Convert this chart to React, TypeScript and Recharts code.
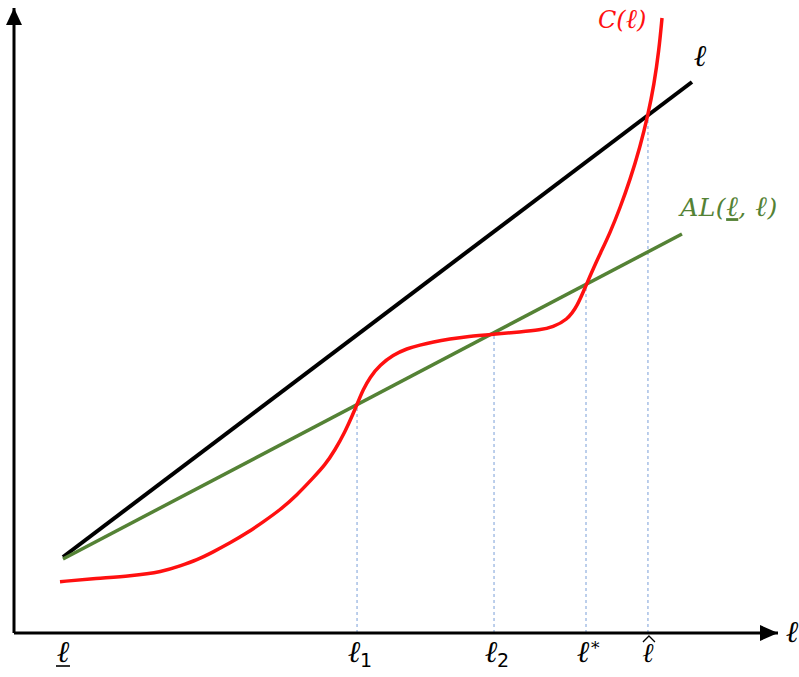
import { LineChart, Line, XAxis, YAxis, ReferenceLine, ReferenceDot } from 'recharts';

// cost curve C(l) (x and y on a 0–100 scale)
const costX = [6.02, 10.82, 15.18, 19.5, 21.73, 23.95, 26.05, 28.27, 30.5, 32.59, 34.82, 37.04, 39.14, 40.71, 42.02, 43.32, 44.37, 45.03, 45.68, 46.6, 47.91, 49.61, 51.44, 53.14, 54.84, 57.07, 59.29, 63.22, 66.23, 68.85, 70.55, 72.38, 73.69, 75.0, 75.92, 76.7, 78.01, 79.32, 80.63, 81.94, 82.98, 83.77, 84.42, 84.82];
const costY = [8.21, 8.75, 9.12, 9.81, 10.72, 11.68, 12.96, 14.4, 16.0, 17.76, 19.68, 22.08, 24.8, 26.88, 29.28, 32.16, 35.04, 36.96, 38.88, 40.96, 42.88, 44.48, 45.52, 46.08, 46.56, 47.04, 47.44, 47.84, 48.16, 48.48, 48.96, 50.08, 52.16, 56.0, 58.56, 60.64, 64.0, 68.0, 72.48, 77.76, 82.88, 87.68, 93.28, 98.4];

// 45-degree line l
const diagX = [6.41, 88.74];
const diagY = [12.16, 88.16];

// AL(l_, l)
const alX = [6.41, 87.43];
const alY = [11.84, 63.84];

// dashed drop lines: position and height where they meet the curves
const markX = [44.9, 62.83, 74.87, 82.98];
const markTop = [36.5, 48.0, 55.7, 82.9];

const tickX = [6.41, ...markX];
const tickSubs = ['', '1', '2', '*', ''];

const toRows = (xs: number[], ys: number[]) => xs.map((x, i) => ({ x, y: ys[i] }));

const FONT = '"DejaVu Serif", serif';
const RED = '#ff1010';
const GREEN = '#548235';
const DASH = '#7a9fd8';

function Ell({ x, y, size = 30, fill = '#000' }: any) {
  return (
    <text x={x} y={y} textAnchor="middle" fontFamily={FONT} fontStyle="italic" fontSize={size} fill={fill}>ℓ</text>
  );
}

function Tick({ x, y, index }: any) {
  const ty = y + 21;
  if (index === 0) {
    return (
      <g>
        <Ell x={x} y={ty} />
        <line x1={x - 7} x2={x + 7} y1={ty + 4} y2={ty + 4} stroke="#000" strokeWidth={1.6} />
      </g>
    );
  }
  if (index === 4) {
    return (
      <g>
        <Ell x={x} y={ty} size={27} />
        <path d={`M${x - 5},${ty - 20} L${x + 1},${ty - 26} L${x + 7},${ty - 20}`} fill="none" stroke="#000" strokeWidth={1.3} />
      </g>
    );
  }
  const sub = tickSubs[index];
  return (
    <g>
      <Ell x={x - 3} y={ty} />
      {sub === '*' ? (
        <text x={x + 5} y={ty - 8} fontFamily={FONT} fontSize={17} fill="#000">*</text>
      ) : (
        <text x={x + 3} y={ty + 5} fontFamily='"DejaVu Sans", sans-serif' fontSize={19} fill="#000">{sub}</text>
      )}
    </g>
  );
}

export default function App() {
  return (
    <div style={{ position: 'absolute', left: 0, top: 0, width: 799, height: 677, background: '#fff' }}>
      <LineChart width={799} height={677} margin={{ top: 8, right: 21, bottom: 0, left: 0 }}>
        <XAxis
          type="number"
          dataKey="x"
          domain={[0, 100]}
          ticks={tickX}
          tick={<Tick />}
          tickLine={false}
          axisLine={{ stroke: '#000', strokeWidth: 3 }}
          height={44}
          interval={0}
          allowDataOverflow
        />
        <YAxis
          type="number"
          dataKey="y"
          domain={[0, 100]}
          tick={false}
          tickLine={false}
          axisLine={{ stroke: '#000', strokeWidth: 3 }}
          width={14}
          allowDataOverflow
        />
        {markX.map((mx, i) => (
          <ReferenceLine
            key={mx}
            segment={[{ x: mx, y: 0 }, { x: mx, y: markTop[i] }]}
            stroke={DASH}
            strokeWidth={1}
            strokeDasharray="3 3"
            ifOverflow="visible"
          />
        ))}
        <Line data={toRows(diagX, diagY)} dataKey="y" stroke="#000" strokeWidth={4} dot={false} isAnimationActive={false} />
        <Line data={toRows(alX, alY)} dataKey="y" stroke={GREEN} strokeWidth={3.5} dot={false} isAnimationActive={false} />
        <Line data={toRows(costX, costY)} dataKey="y" type="basis" stroke={RED} strokeWidth={3.5} dot={false} isAnimationActive={false} />
        <ReferenceDot
          x={100}
          y={0}
          ifOverflow="visible"
          shape={(p: any) => (
            <g>
              <path d={`M${p.cx},${p.cy} L${p.cx - 18},${p.cy - 8} L${p.cx - 18},${p.cy + 8} Z`} fill="#000" />
              <Ell x={p.cx + 14} y={p.cy + 9} />
            </g>
          )}
        />
        <ReferenceDot
          x={0}
          y={100}
          ifOverflow="visible"
          shape={(p: any) => (
            <path d={`M${p.cx},${p.cy} L${p.cx - 8},${p.cy + 17} L${p.cx + 8},${p.cy + 17} Z`} fill="#000" />
          )}
        />
        <ReferenceDot
          x={79.6}
          y={96.9}
          ifOverflow="visible"
          shape={(p: any) => (
            <text x={p.cx} y={p.cy + 1} textAnchor="middle" fontFamily={FONT} fontStyle="italic" fontSize={24} fill={RED}>
              C(<tspan fontSize={27}>ℓ</tspan>)
            </text>
          )}
        />
        <ReferenceDot
          x={89.8}
          y={90.7}
          ifOverflow="visible"
          shape={(p: any) => <Ell x={p.cx} y={p.cy} />}
        />
        <ReferenceDot
          x={87.2}
          y={66.7}
          ifOverflow="visible"
          shape={(p: any) => (
            <text x={p.cx} y={p.cy} fontFamily={FONT} fontStyle="italic" fontSize={25} fill={GREEN} letterSpacing={0.5}>
              AL(<tspan fontSize={28} style={{ textDecoration: 'underline' }}>ℓ</tspan>, <tspan fontSize={28}>ℓ</tspan>)
            </text>
          )}
        />
      </LineChart>
    </div>
  );
}
